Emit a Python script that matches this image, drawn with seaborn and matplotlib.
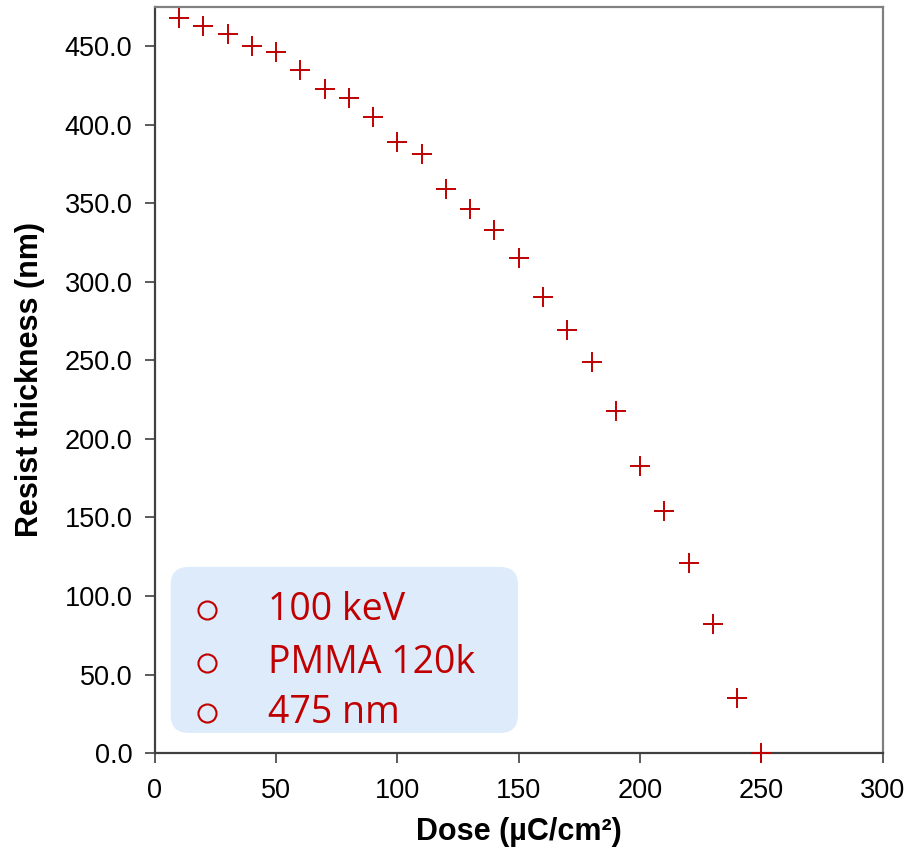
import numpy as np
import pandas as pd
import matplotlib
matplotlib.use('Agg')
import matplotlib.pyplot as plt
import seaborn as sns
from matplotlib.patches import FancyBboxPatch

dose = [10, 20, 30, 40, 50, 60, 70, 80, 90, 100, 110, 120, 130,
        140, 150, 160, 170, 180, 190, 200, 210, 220, 230, 240, 250]
thickness = [468, 463, 458, 450, 446, 435, 423, 417, 405, 389, 381, 359, 346,
             333, 315, 290, 269, 249, 218, 183, 154, 121, 82, 35, 0]
notes = ['100 keV', 'PMMA 120k', '475 nm']

df = pd.DataFrame({'dose': dose, 'thickness': thickness})

sns.set_style('white')
plt.rcParams['font.family'] = ['Liberation Sans', 'DejaVu Sans']
plt.rcParams['text.color'] = 'black'
plt.rcParams['axes.labelcolor'] = 'black'
plt.rcParams['xtick.color'] = 'black'
plt.rcParams['ytick.color'] = 'black'

red = '#C00000'
fig = plt.figure(figsize=(9.1, 8.5), dpi=100)
ax = fig.add_axes([0.170, 0.114, 0.800, 0.878])

sns.scatterplot(data=df, x='dose', y='thickness', marker='+', s=190,
                color=red, linewidth=1.4, ax=ax, zorder=3, clip_on=False)

ax.set_xlim(0, 300)
ax.set_ylim(0, 475)
ax.set_xticks(range(0, 301, 50))
ax.set_yticks(range(0, 451, 50))
ax.set_yticklabels([f'{v:.1f}' for v in range(0, 451, 50)])
ax.tick_params(axis='both', direction='out', length=7, width=1.2,
               color='#404040', labelcolor='black', labelsize=19.5,
               bottom=True, left=True)
ax.tick_params(axis='y', pad=9)
ax.tick_params(axis='x', pad=11)
for side in ['bottom', 'left']:
    ax.spines[side].set_color('#404040')
    ax.spines[side].set_linewidth(1.6)
for side in ['top', 'right']:
    ax.spines[side].set_color('#808080')
    ax.spines[side].set_linewidth(1.6)

ax.set_xlabel('Dose (µC/cm²)', fontsize=22, fontweight='bold', labelpad=9)
ax.set_ylabel('Resist thickness (nm)', fontsize=22, fontweight='bold', labelpad=14)

# annotation box
box = FancyBboxPatch((0.022, 0.027), 0.477, 0.2225, transform=ax.transAxes,
                     boxstyle='round,pad=0,rounding_size=0.025',
                     facecolor='#DDEBFB', edgecolor='none', zorder=1,
                     mutation_aspect=0.95)
ax.add_patch(box)
rows_y = [0.1917, 0.1206, 0.0536]
for label, yy in zip(notes, rows_y):
    ax.plot([0.072], [yy], marker='o', markersize=13, markerfacecolor='none',
            markeredgecolor=red, markeredgewidth=1.5, transform=ax.transAxes,
            zorder=2)
    ax.text(0.155, yy, label, transform=ax.transAxes, color=red, fontsize=27,
            va='center', ha='left', family=['Open Sans', 'DejaVu Sans'], zorder=2)

fig.savefig('out.png', dpi=100)
